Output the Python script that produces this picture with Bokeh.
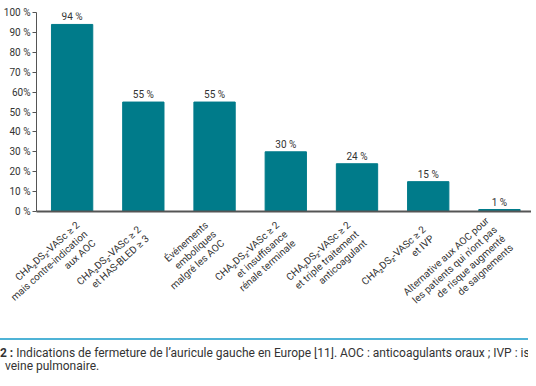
import math
from bokeh.plotting import figure
from bokeh.models import Range1d, FixedTicker, Div
from bokeh.layouts import column
from bokeh.core.properties import value
from bokeh.embed import file_html
from bokeh.resources import INLINE

categories = [
    "CHA\u2082DS\u2082-VASc \u2265 2\nmais contre-indication\naux AOC",
    "CHA\u2082DS\u2082-VASc \u2265 2\net HAS-BLED \u2265 3",
    "\u00c9v\u00e9nements\nemboliques\nmalgr\u00e9 les AOC",
    "CHA\u2082DS\u2082-VASc \u2265 2\net insuffisance\nr\u00e9nale terminale",
    "CHA\u2082DS\u2082-VASc \u2265 2\net triple traitement\nanticoagulant",
    "CHA\u2082DS\u2082-VASc \u2265 2\net IVP",
    "Alternative aux AOC pour\nles patients qui n'ont pas\nde risque augment\u00e9\nde saignements",
]
values = [94, 55, 55, 30, 24, 15, 1]
value_labels = [f"{v} %" for v in values]
y_ticks = [0, 10, 20, 30, 40, 50, 60, 70, 80, 90, 100]
y_tick_labels = ["0 %", "10 %", "20 %", "30 %", "40 %", "50 %", "60%", "70 %", "80 %", "90 %", "100 %"]
caption_bold = "2 :"
caption_line1 = "Indications de fermeture de l\u2019auricule gauche en Europe [11]. AOC : anticoagulants oraux ; IVP : isolement de la"
caption_line2 = "veine pulmonaire."

FONT = "Roboto"
BAR = "#007b8a"
AX = "#555555"
TXT = "#333333"

xs = list(range(len(categories)))

p = figure(frame_width=495, frame_height=199, output_backend="svg", toolbar_location=None,
           x_range=Range1d(-0.5, 6.45), y_range=Range1d(0, 100),
           min_border_left=33, min_border_right=0, min_border_top=12, min_border_bottom=100)
p.outline_line_color = None
p.xgrid.visible = False
p.ygrid.visible = False
p.background_fill_color = "white"
p.border_fill_color = None

p.vbar(x=xs, top=values, width=0.58, color=BAR)
p.text(x=xs, y=values, text=value_labels, text_align="center", text_baseline="bottom",
       y_offset=-2, text_font_size="10px", text_color=TXT, text_font=value(FONT))

ya = p.yaxis[0]
ya.ticker = FixedTicker(ticks=y_ticks)
ya.major_label_overrides = {t: l for t, l in zip(y_ticks, y_tick_labels)}
ya.minor_tick_line_color = None
ya.major_tick_in = 0
ya.major_tick_out = 4
ya.major_label_standoff = 2
ya.axis_line_color = AX
ya.major_tick_line_color = AX
ya.major_label_text_font = FONT
ya.major_label_text_font_size = "10px"
ya.major_label_text_color = TXT

xa = p.xaxis[0]
xa.ticker = FixedTicker(ticks=xs)
xa.major_label_overrides = {i: c for i, c in zip(xs, categories)}
xa.minor_tick_line_color = None
xa.major_tick_line_color = None
xa.axis_line_color = AX
xa.axis_line_width = 2
xa.major_label_standoff = 15
xa.major_label_orientation = math.radians(42)
xa.major_label_text_font = FONT
xa.major_label_text_font_size = "10px"
xa.major_label_text_color = TXT
xa.major_label_text_line_height = 1.1

cap = Div(text=f"<div style='white-space:nowrap;overflow:hidden;width:528px'><b>{caption_bold}</b> {caption_line1}</div>"
               f"<div style='padding-left:5px'>{caption_line2}</div>",
          width=528, height=38, margin=(-6, 0, 0, 0),
          styles={"border-top": "2px solid #4fb3d6", "font-family": "Roboto", "font-size": "12px",
                  "color": "#333", "line-height": "13px", "padding-top": "7px", "box-sizing": "border-box",
                  "overflow": "hidden", "background-color": "white",
                  "position": "relative", "z-index": "10"})

layout = column(p, cap, spacing=0)
open("out.html", "w").write(file_html(layout, INLINE))
